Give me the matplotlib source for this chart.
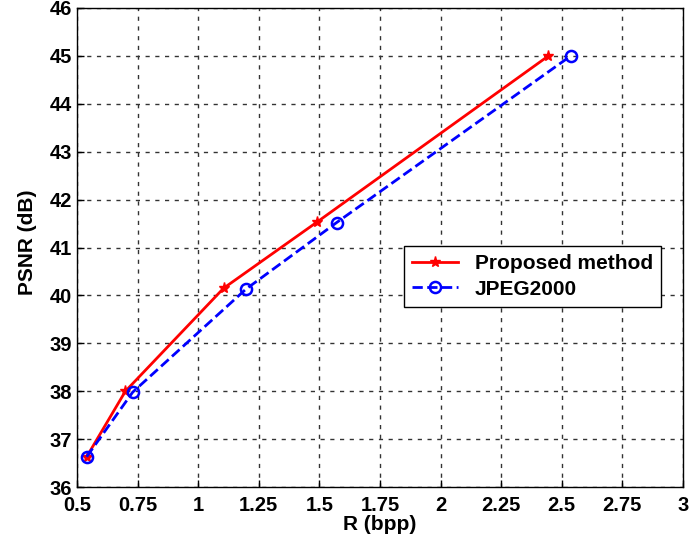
import matplotlib
matplotlib.use("Agg")
import matplotlib.pyplot as plt

# rate (bpp) vs PSNR (dB)
rate_proposed = [0.54, 0.70, 1.105, 1.49, 2.445]
psnr_proposed = [36.63, 38.0, 40.15, 41.53, 45.0]
rate_jpeg = [0.54, 0.73, 1.197, 1.571, 2.537]
psnr_jpeg = [36.63, 37.98, 40.13, 41.52, 45.0]

xticks = [0.5, 0.75, 1, 1.25, 1.5, 1.75, 2, 2.25, 2.5, 2.75, 3]
xticklabels = ["0.5", "0.75", "1", "1.25", "1.5", "1.75", "2", "2.25", "2.5", "2.75", "3"]
yticks = list(range(36, 47))

plt.rcParams["font.family"] = ["Liberation Sans", "DejaVu Sans"]
plt.rcParams["font.weight"] = "bold"

fig = plt.figure(figsize=(6.93, 5.5), dpi=100)
ax = fig.add_axes([0.111, 0.1145, 0.8746, 0.871])

ax.plot(rate_proposed, psnr_proposed, "-", color="red", lw=2,
        marker="*", ms=8, label="Proposed method")
ax.plot(rate_jpeg, psnr_jpeg, "--", color="blue", lw=2,
        marker="o", ms=8, mfc="none", mew=1.8, label="JPEG2000")

ax.set_xlim(0.5, 3)
ax.set_ylim(36, 46)
ax.set_xticks(xticks)
ax.set_xticklabels(xticklabels)
ax.set_yticks(yticks)
ax.tick_params(direction="in", labelsize=14.5, length=5, width=1)
ax.tick_params(axis="x", pad=6.5)
for lab in ax.get_xticklabels() + ax.get_yticklabels():
    lab.set_fontweight("bold")
ax.grid(True, color="#333333", linestyle=(0, (3, 4)), linewidth=1)
ax.set_xlabel("R (bpp)", fontsize=15, fontweight="bold", labelpad=0)
ax.set_ylabel("PSNR (dB)", fontsize=15, fontweight="bold")
ax.yaxis.set_label_coords(-0.066, 0.51)
for s in ax.spines.values():
    s.set_linewidth(1)

leg = ax.legend(loc="upper left", bbox_to_anchor=(0.5396, 0.503), fontsize=15,
                fancybox=False, edgecolor="black", framealpha=1,
                handlelength=2.2, borderpad=0.4, labelspacing=0.3,
                borderaxespad=0)
leg.get_frame().set_linewidth(1)

fig.savefig("out.png", dpi=100)
